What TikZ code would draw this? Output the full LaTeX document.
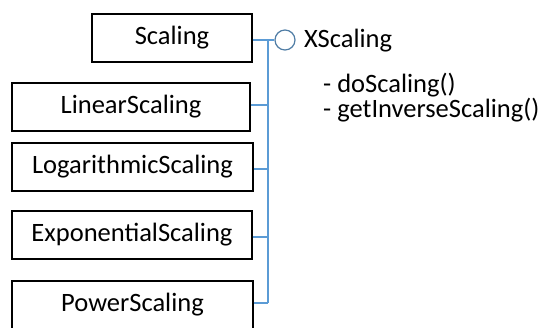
\documentclass[tikz,border=0pt]{standalone}
\usepackage{fontspec}
\setmainfont{Carlito}
\definecolor{busblue}{RGB}{91,155,213}
\definecolor{circblue}{RGB}{80,125,165}
\begin{document}
\begin{tikzpicture}[x=1pt,y=-1pt,
  cls/.style={draw=black,line width=1.4pt,fill=white,minimum height=48pt,inner sep=0pt,font=\fontsize{26.5}{30}\selectfont},
  bus/.style={draw=busblue,line width=1.4pt},
  lbl/.style={anchor=base west,inner sep=0pt,align=left,font=\fontsize{26.5}{25}\selectfont}]
\useasboundingbox (0,0) rectangle (544,327);
\node[cls,minimum width=160pt] (scaling) at (172,38) {Scaling};
\node[cls,minimum width=238pt] (linear) at (131,107) {LinearScaling};
\node[cls,minimum width=241pt] (log) at (132.5,167) {LogarithmicScaling};
\node[cls,minimum width=240pt] (exp) at (132,235) {ExponentialScaling};
\node[cls,minimum width=241pt] (power) at (132.5,305) {PowerScaling};
\coordinate (busx) at (268,0);
\node[draw=circblue,line width=1.2pt,circle,minimum size=20pt,inner sep=0pt] (iface) at (285,40) {};
\coordinate (blin) at (0,105);
\coordinate (blog) at (0,169);
\coordinate (bexp) at (0,237);
\coordinate (bpow) at (0,303);
\draw[bus] (scaling.east |- iface) -- (iface.west);
\draw[bus] (iface -| busx) -- (bpow -| busx);
\draw[bus] (linear.east |- blin) -- (blin -| busx);
\draw[bus] (log.east |- blog) -- (blog -| busx);
\draw[bus] (exp.east |- bexp) -- (bexp -| busx);
\draw[bus] (power.east |- bpow) -- (bpow -| busx);
\node[lbl] (xname) at (304,47) {XScaling};
\node[lbl] (methods) at (323,117) {- doScaling()\\- getInverseScaling()};
\end{tikzpicture}
\end{document}
